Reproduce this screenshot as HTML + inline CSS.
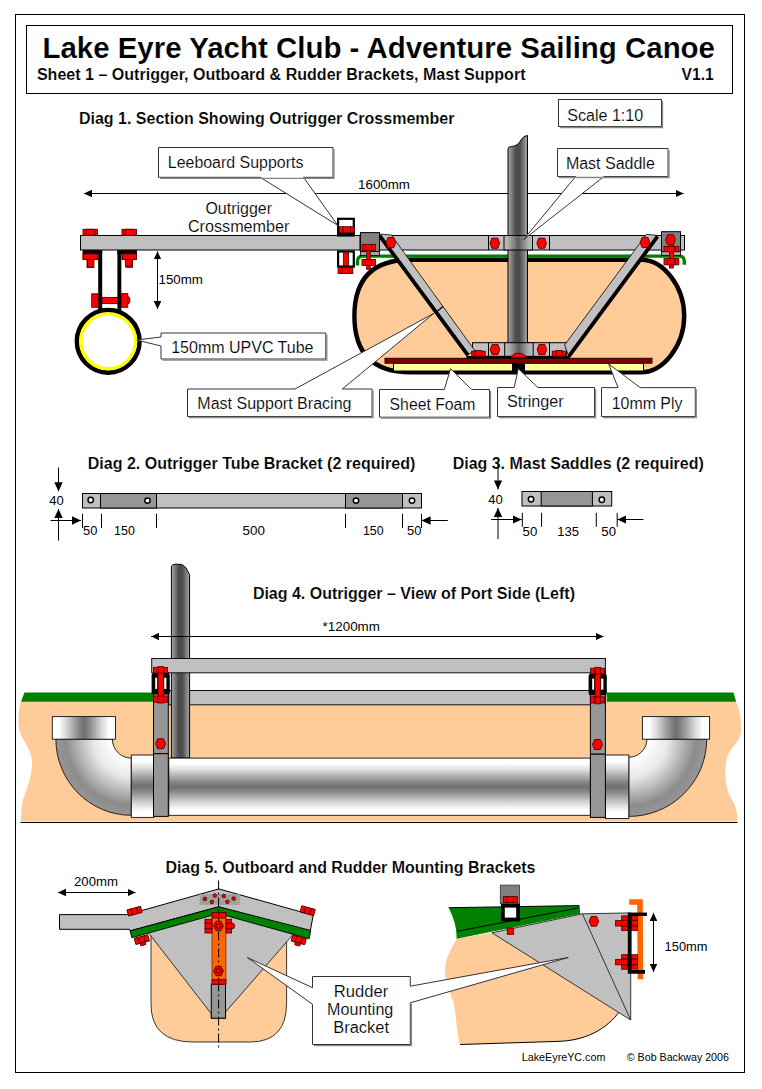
<!DOCTYPE html>
<html><head><meta charset="utf-8">
<style>
html,body{margin:0;padding:0;background:#fff;}
svg{display:block;}
text{font-family:"Liberation Sans",sans-serif;fill:#000;stroke:#fff;stroke-width:0.15;}
text[font-size="13"],text[font-size="10.7"]{stroke:none;}
text.b{stroke-width:0.15;}
.b{font-weight:bold;}
.co{fill:#fff;stroke:#333;stroke-width:1;stroke-linejoin:miter;}
.g{fill:#c0c0c0;stroke:#000;stroke-width:1;}
.dg{fill:#969696;stroke:#000;stroke-width:1;}
.r{fill:#ff0000;stroke:#5a0000;stroke-width:0.9;}
.ln{stroke:#000;stroke-width:1;fill:none;}
</style></head><body>
<svg width="762" height="1089" viewBox="0 0 762 1089">
<defs>
<linearGradient id="mastH" x1="0" x2="1" y1="0" y2="0">
<stop offset="0" stop-color="#a8a8a8"/><stop offset="0.4" stop-color="#4c4c4c"/><stop offset="0.6" stop-color="#4c4c4c"/><stop offset="1" stop-color="#a8a8a8"/>
</linearGradient>
<linearGradient id="pipeV" x1="0" x2="0" y1="0" y2="1">
<stop offset="0" stop-color="#fff"/><stop offset="0.1" stop-color="#fff"/><stop offset="0.22" stop-color="#d8d8d8"/><stop offset="0.31" stop-color="#b2b2b2"/><stop offset="0.41" stop-color="#8a8a8a"/><stop offset="0.5" stop-color="#707070"/><stop offset="0.59" stop-color="#8a8a8a"/><stop offset="0.69" stop-color="#b2b2b2"/><stop offset="0.78" stop-color="#d8d8d8"/><stop offset="0.9" stop-color="#fff"/><stop offset="1" stop-color="#fff"/>
</linearGradient>
<linearGradient id="pipeH" x1="0" x2="1" y1="0" y2="0">
<stop offset="0" stop-color="#fff"/><stop offset="0.1" stop-color="#fff"/><stop offset="0.22" stop-color="#d8d8d8"/><stop offset="0.31" stop-color="#b2b2b2"/><stop offset="0.41" stop-color="#8a8a8a"/><stop offset="0.5" stop-color="#707070"/><stop offset="0.59" stop-color="#8a8a8a"/><stop offset="0.69" stop-color="#b2b2b2"/><stop offset="0.78" stop-color="#d8d8d8"/><stop offset="0.9" stop-color="#fff"/><stop offset="1" stop-color="#fff"/>
</linearGradient>
<marker id="ah" viewBox="0 0 10 10" refX="10" refY="5" markerWidth="8" markerHeight="7.6" markerUnits="userSpaceOnUse" orient="auto-start-reverse" preserveAspectRatio="none"><path d="M0,0 L10,5 L0,10 Z" fill="#000"/></marker>
<marker id="ah2" viewBox="0 0 10 10" refX="10" refY="5" markerWidth="9" markerHeight="8.4" markerUnits="userSpaceOnUse" orient="auto-start-reverse" preserveAspectRatio="none"><path d="M0,0 L10,5 L0,10 Z" fill="#000"/></marker>
<radialGradient id="elbL" gradientUnits="userSpaceOnUse" cx="131.3" cy="739.2" r="76"><stop offset="0.25" stop-color="#fff"/><stop offset="0.5" stop-color="#e8e8e8"/><stop offset="0.72" stop-color="#b0b0b0"/><stop offset="0.86" stop-color="#8c8c8c"/><stop offset="1" stop-color="#969696"/></radialGradient>
<radialGradient id="elbR" gradientUnits="userSpaceOnUse" cx="628.8" cy="739.2" r="77.5"><stop offset="0.25" stop-color="#fff"/><stop offset="0.5" stop-color="#e8e8e8"/><stop offset="0.72" stop-color="#b0b0b0"/><stop offset="0.86" stop-color="#8c8c8c"/><stop offset="1" stop-color="#969696"/></radialGradient>
<linearGradient id="sadH" x1="0" x2="1" y1="0" y2="0"><stop offset="0" stop-color="#bcbcbc"/><stop offset="0.15" stop-color="#b0b0b0"/><stop offset="0.5" stop-color="#5c5c5c"/><stop offset="0.85" stop-color="#b0b0b0"/><stop offset="1" stop-color="#bcbcbc"/></linearGradient>
</defs>
<rect x="0" y="0" width="762" height="1089" fill="#fff"/>
<!-- FRAME -->
<rect x="15.5" y="14.5" width="729" height="1058" fill="none" stroke="#000" stroke-width="1"/>
<rect x="26.5" y="25.5" width="706" height="68" fill="none" stroke="#000" stroke-width="1"/>
<text class="b" x="42.4" y="58" font-size="29.6" textLength="672.6" lengthAdjust="spacingAndGlyphs">Lake Eyre Yacht Club - Adventure Sailing Canoe</text>
<text class="b" x="36.9" y="79.6" font-size="16" textLength="488.6" lengthAdjust="spacingAndGlyphs">Sheet 1 – Outrigger, Outboard &amp; Rudder Brackets, Mast Support</text>
<text class="b" x="681.5" y="79.6" font-size="16" textLength="32.2" lengthAdjust="spacingAndGlyphs">V1.1</text>

<g id="diag1">
<text class="b" x="78.9" y="124.0" font-size="16" textLength="375.6" lengthAdjust="spacingAndGlyphs">Diag 1. Section Showing Outrigger Crossmember</text>
<!-- dim line -->
<line class="ln" x1="84" y1="193.5" x2="683.5" y2="193.5" marker-start="url(#ah)" marker-end="url(#ah)"/>
<text x="358.1" y="189.4" font-size="13" textLength="51.8" lengthAdjust="spacingAndGlyphs">1600mm</text>
<!-- hull -->
<path d="M410.4,259.7 L641.2,259.7 C663.6,259.7 684.2,286.7 684.2,315.95 C684.2,345.2 663.6,372.2 641.2,372.2 L410.4,372.2 C372.9,372.2 354.4,353.6 354.4,315.95 C354.4,278.3 372.9,259.7 410.4,259.7 Z" fill="#ffcc99" stroke="#000" stroke-width="4.4"/>
<!-- green gunwale -->
<path d="M357.5,265.6 L357.5,261.5 Q357.5,256.1 362.5,256.1 L679.5,256.1 Q684.3,256.1 684.3,261.5 L684.3,264.8" fill="none" stroke="#008000" stroke-width="3.4"/>
<!-- ply / foam / stringer -->
<rect x="393.5" y="363" width="119" height="8" fill="#ffff99" stroke="#000" stroke-width="1"/>
<rect x="524.5" y="363" width="119" height="8" fill="#ffff99" stroke="#000" stroke-width="1"/>
<rect x="512.5" y="362" width="11.5" height="11.5" fill="#000"/>
<rect x="385" y="358.3" width="267" height="4.9" fill="#800000" stroke="#300000" stroke-width="1"/>
<!-- outer crossmember -->
<rect class="g" x="80.5" y="235.5" width="279.5" height="14.5"/>
<!-- inner crossmember -->
<rect class="g" x="379.5" y="235.5" width="305" height="14.5"/>
<rect class="g" x="472.5" y="342.7" width="94" height="13.6"/>
<!-- mast -->
<path d="M508,356 L508,149 Q508,146.5 511.5,146.5 Q518,146 521,140 Q523.5,135.5 527.5,135.5 L527.5,356 Z" fill="url(#mastH)" stroke="#000" stroke-width="1"/>
<rect x="504" y="235.5" width="28.5" height="14.5" fill="url(#sadH)" stroke="#000" stroke-width="1"/>
<line class="ln" x1="488.5" y1="235.5" x2="488.5" y2="250"/>
<line class="ln" x1="549.5" y1="235.5" x2="549.5" y2="250"/>
<!-- bottom cross piece -->
<rect x="504.7" y="342.7" width="28.5" height="13.6" fill="url(#sadH)" stroke="#000" stroke-width="1"/>
<line class="ln" x1="488.5" y1="342.7" x2="488.5" y2="356.3"/>
<line class="ln" x1="549.5" y1="342.7" x2="549.5" y2="356.3"/>
<rect x="466.5" y="356" width="103.5" height="2.6" fill="#000"/>
<!-- braces -->
<polygon points="378.7,234 391.3,235 474.8,350.5 467,355.3" fill="#c0c0c0" stroke="#000" stroke-width="0.8"/>
<line x1="379.6" y1="235.6" x2="468" y2="355.4" stroke="#000" stroke-width="3.8"/>
<line x1="437" y1="311.5" x2="443" y2="306.5" stroke="#000" stroke-width="1.2"/>
<polygon points="646.5,234.3 658,235.5 568.7,356.5 564.6,345" fill="#c0c0c0" stroke="#000" stroke-width="0.8"/>
<line x1="657.4" y1="236.6" x2="569" y2="356.2" stroke="#000" stroke-width="3.8"/>
<!-- end blocks -->
<rect x="360.4" y="232.6" width="19.1" height="19" fill="#808080" stroke="#000" stroke-width="1"/>
<rect x="360.4" y="251.6" width="19.1" height="3.9" fill="#a6a6a6" stroke="#000" stroke-width="0.8"/>
<rect x="661.5" y="231.7" width="19" height="20" fill="#808080" stroke="#000" stroke-width="1"/>
<rect x="661.5" y="251.6" width="19" height="3.9" fill="#a6a6a6" stroke="#000" stroke-width="0.8"/>
<!-- leeboard supports -->
<rect x="338.1" y="218.8" width="15.7" height="16.7" fill="#fff" stroke="#000" stroke-width="2.2"/>
<rect x="337" y="232.3" width="17.9" height="3.2" fill="#000"/>
<rect x="338.1" y="251.5" width="15.7" height="15.1" fill="#fff" stroke="#000" stroke-width="2.2"/>
<g class="r">
<rect x="339.4" y="226.7" width="3.6" height="5.6"/><rect x="343" y="226.7" width="7.6" height="5.6"/><rect x="350.6" y="226.7" width="3.5" height="5.6"/>
<rect x="343.4" y="252.9" width="5" height="12.7"/>
<rect x="338.1" y="267.7" width="3.9" height="5.8"/><rect x="342" y="267.7" width="7.3" height="5.8"/><rect x="349.3" y="267.7" width="3.5" height="5.8"/>
<!-- left end-block bolt -->
<rect x="366.7" y="250.3" width="3.6" height="19"/>
<rect x="362" y="244.4" width="3.4" height="5.9"/><rect x="365.4" y="244.4" width="6.2" height="5.9"/><rect x="371.6" y="244.4" width="3.9" height="5.9"/>
<rect x="362" y="259.5" width="3.4" height="5.9"/><rect x="365.4" y="259.5" width="6.2" height="5.9"/><rect x="371.6" y="259.5" width="3.9" height="5.9"/>
<!-- right end-block bolt -->
<rect x="669.4" y="244" width="4" height="24"/>
<rect x="664" y="246.5" width="3.6" height="5.2"/><rect x="667.6" y="246.5" width="7.4" height="5.2"/><rect x="675" y="246.5" width="3.8" height="5.2"/>
<rect x="664" y="258.6" width="3.6" height="6.2"/><rect x="667.6" y="258.6" width="7.4" height="6.2"/><rect x="675" y="258.6" width="3.8" height="6.2"/>
</g>
<!-- BOLTS -->
<g class="r">
<!-- hex -->
<polygon points="386.1,242.6 387.9,237.5 393.9,237.5 395.7,242.6 393.9,247.7 387.9,247.7"/>
<polygon points="490.0,243.2 491.8,238.1 497.8,238.1 499.6,243.2 497.8,248.3 491.8,248.3"/>
<polygon points="536.9,243.2 538.7,238.1 544.7,238.1 546.5,243.2 544.7,248.3 538.7,248.3"/>
<polygon points="640.2,242.5 642.0,237.4 648.0,237.4 649.8,242.5 648.0,247.6 642.0,247.6"/>
<polygon points="665.7,239.8 667.5,234.7 673.5,234.7 675.3,239.8 673.5,244.9 667.5,244.9"/>
<polygon points="490.2,349.6 492.0,344.5 498.0,344.5 499.8,349.6 498.0,354.7 492.0,354.7"/>
<polygon points="537.1,349.6 538.9,344.5 544.9,344.5 546.7,349.6 544.9,354.7 538.9,354.7"/>
<!-- brace bottom bolts -->
<rect x="471.7" y="351.2" width="3.6" height="5"/><rect x="475.3" y="350.5" width="6.3" height="5.7"/><rect x="481.6" y="351.2" width="3.6" height="5"/>
<rect x="552.3" y="351.2" width="3.6" height="5"/><rect x="555.9" y="350.5" width="6.3" height="5.7"/><rect x="562.2" y="351.2" width="3.6" height="5"/>
<path d="M511.4,357.8 Q512,353.2 518.5,353.2 Q525,353.2 525.7,357.8 Z"/>
<!-- left end bolts on crossmember -->
<rect x="83" y="229.3" width="14.5" height="6"/><rect x="86" y="229.3" width="8.5" height="6"/>
<rect x="122" y="229.3" width="14.5" height="6"/><rect x="125" y="229.3" width="8.5" height="6"/>
<rect x="83" y="250.3" width="14.5" height="9"/><rect x="87" y="259.3" width="6.6" height="8"/>
<rect x="122" y="250.3" width="14.5" height="9"/><rect x="126" y="259.3" width="6.6" height="8"/>
</g>
<!-- U bracket -->
<g fill="#000">
<rect x="83" y="250.3" width="19.2" height="3.8"/>
<rect x="117.3" y="250.3" width="19.4" height="3.8"/>
<rect x="98.2" y="250.3" width="4" height="61"/>
<rect x="117.4" y="250.3" width="3.9" height="61"/>
</g>
<g class="r">
<rect x="83.1" y="254" width="14.5" height="5.5"/><rect x="87.5" y="259.4" width="6.4" height="7.8"/>
<rect x="122.5" y="254" width="14" height="5.5"/><rect x="125.4" y="259.4" width="6.3" height="6.8"/>
<rect x="102" y="297.4" width="15.5" height="6.2"/>
<rect x="91.7" y="293.8" width="6.4" height="13.5"/>
<rect x="121.6" y="293.6" width="6.2" height="13.7"/>
<path d="M127.7,296.5 Q130,296.5 130,300.3 Q130,304 127.7,304 Z"/>
</g>
<circle cx="108.2" cy="341.3" r="31.3" fill="#fff" stroke="#000" stroke-width="4.6"/>
<circle cx="108.2" cy="341.3" r="27.4" fill="#fff" stroke="#ffff00" stroke-width="3.4"/>
<!-- 150mm arrow -->
<line class="ln" x1="157.5" y1="251.4" x2="157.5" y2="309" marker-start="url(#ah)" marker-end="url(#ah)"/>
<text x="158.6" y="284.1" font-size="13" textLength="44.3" lengthAdjust="spacingAndGlyphs">150mm</text>
<text x="205.4" y="214.3" font-size="16" textLength="66.6" lengthAdjust="spacingAndGlyphs">Outrigger</text>
<text x="187.9" y="231.9" font-size="16" textLength="101.6" lengthAdjust="spacingAndGlyphs">Crossmember</text>
<!-- callouts -->
<path class="co" d="M158.5,147.5 H333 V177.3 H303.5 L337.7,225.3 L260.2,177.3 H158.5 Z"/>
<path d="M334.0,149.0 V178.3 H160.0" fill="none" stroke="#888" stroke-width="1.3"/>
<text x="167.8" y="168.2" font-size="16" textLength="135.6" lengthAdjust="spacingAndGlyphs">Leeboard Supports</text>
<path class="co" d="M557.5,148.5 H668 V176.5 H604 L523.6,239.6 L575.6,176.5 H557.5 Z"/>
<path d="M669.0,150.0 V177.5 H559.0" fill="none" stroke="#888" stroke-width="1.3"/>
<text x="565.9" y="169.3" font-size="16" textLength="88.9" lengthAdjust="spacingAndGlyphs">Mast Saddle</text>
<rect class="co" x="558.5" y="99.5" width="103" height="27"/>
<path d="M662.5,101.0 V127.5 H560.0" fill="none" stroke="#888" stroke-width="1.3"/>
<text x="567.2" y="120.6" font-size="16" textLength="76.0" lengthAdjust="spacingAndGlyphs">Scale 1:10</text>
<path class="co" d="M161,333 H325.8 V359 H161 V346 L136.8,340 L161,337 Z"/>
<path d="M326.8,334.5 V360.0 H162.5" fill="none" stroke="#888" stroke-width="1.3"/>
<text x="171.2" y="353.3" font-size="16" textLength="142.3" lengthAdjust="spacingAndGlyphs">150mm UPVC Tube</text>
<path class="co" d="M187.5,389 H295 L433.9,313.3 L342.3,389 H372 V416.5 H187.5 Z"/>
<path d="M373.0,390.5 V417.5 H189.0" fill="none" stroke="#888" stroke-width="1.3"/>
<text x="197.3" y="409.2" font-size="16" textLength="154.2" lengthAdjust="spacingAndGlyphs">Mast Support Bracing</text>
<path class="co" d="M379.5,389.5 H444.3 L450.6,368.7 L471.7,389.5 H489.5 V417.2 H379.5 Z"/>
<path d="M490.5,391.0 V418.2 H381.0" fill="none" stroke="#888" stroke-width="1.3"/>
<text x="389.6" y="410.3" font-size="16" textLength="85.9" lengthAdjust="spacingAndGlyphs">Sheet Foam</text>
<path class="co" d="M497.5,387.5 H514.2 L518.3,368.7 L537.8,387.5 H594.5 V416.6 H497.5 Z"/>
<path d="M595.5,389.0 V417.6 H499.0" fill="none" stroke="#888" stroke-width="1.3"/>
<text x="507" y="407.4" font-size="16" textLength="56.6" lengthAdjust="spacingAndGlyphs">Stringer</text>
<path class="co" d="M601.5,387.6 H618 L608.7,364 L640.2,387.6 H695.3 V416.6 H601.5 Z"/>
<path d="M696.3,389.1 V417.6 H603.0" fill="none" stroke="#888" stroke-width="1.3"/>
<text x="611.7" y="408.7" font-size="16" textLength="70.8" lengthAdjust="spacingAndGlyphs">10mm Ply</text>
</g>

<g id="diag2">
<text class="b" x="87.7" y="469.1" font-size="16" textLength="327.6" lengthAdjust="spacingAndGlyphs">Diag 2. Outrigger Tube Bracket (2 required)</text>
<rect class="g" x="82.5" y="493.5" width="339" height="14.5"/>
<rect class="dg" x="100.5" y="493.5" width="56" height="14.5"/>
<rect class="dg" x="345.5" y="493.5" width="57" height="14.5"/>
<g fill="#fff" stroke="#000" stroke-width="1.5">
<circle cx="90.7" cy="500" r="2.7"/><circle cx="147.5" cy="500.6" r="2.7"/><circle cx="356" cy="500.6" r="2.7"/><circle cx="412" cy="500.6" r="2.7"/>
</g>
<text x="49.3" y="504.6" font-size="13" textLength="14.5" lengthAdjust="spacingAndGlyphs">40</text>
<line class="ln" x1="58.5" y1="467.5" x2="58.5" y2="491.3" marker-end="url(#ah2)"/>
<line class="ln" x1="58.5" y1="540.6" x2="58.5" y2="509" marker-end="url(#ah2)"/>
<line class="ln" x1="50.5" y1="520.5" x2="81" y2="520.5" marker-end="url(#ah2)"/>
<line class="ln" x1="447.8" y1="520.5" x2="421.6" y2="520.5" marker-end="url(#ah2)"/>
<path class="ln" d="M82.5,513.8 V528 M101.5,513.8 V528 M156.5,513.8 V528 M345.5,513.8 V528 M402.5,513.8 V528 M421.5,513.8 V528"/>
<text x="83.1" y="534.9" font-size="13" textLength="14.3" lengthAdjust="spacingAndGlyphs">50</text>
<text x="114.1" y="534.9" font-size="13" textLength="20.7" lengthAdjust="spacingAndGlyphs">150</text>
<text x="242.6" y="534.9" font-size="13" textLength="22.3" lengthAdjust="spacingAndGlyphs">500</text>
<text x="362.9" y="534.9" font-size="13" textLength="20.7" lengthAdjust="spacingAndGlyphs">150</text>
<text x="407.1" y="534.9" font-size="13" textLength="14.3" lengthAdjust="spacingAndGlyphs">50</text>
</g>

<g id="diag3">
<text class="b" x="452.7" y="469.3" font-size="16" textLength="251.1" lengthAdjust="spacingAndGlyphs">Diag 3. Mast Saddles (2 required)</text>
<rect class="g" x="522" y="491.5" width="89.7" height="14.5"/>
<rect class="dg" x="541.2" y="491.5" width="51.2" height="14.5"/>
<g fill="#fff" stroke="#000" stroke-width="1.5">
<circle cx="531" cy="499.2" r="2.7"/><circle cx="601.8" cy="499.8" r="2.7"/>
</g>
<text x="488.3" y="503.8" font-size="13" textLength="14.5" lengthAdjust="spacingAndGlyphs">40</text>
<line class="ln" x1="498" y1="461.7" x2="498" y2="489.4" marker-end="url(#ah2)"/>
<line class="ln" x1="498" y1="539.2" x2="498" y2="508" marker-end="url(#ah2)"/>
<line class="ln" x1="491.2" y1="519.5" x2="521.7" y2="519.5" marker-end="url(#ah2)"/>
<line class="ln" x1="643.5" y1="519.5" x2="617.4" y2="519.5" marker-end="url(#ah2)"/>
<path class="ln" d="M522.3,512.8 V526.8 M541.6,512.8 V526.8 M596.3,512.8 V526.8 M617.2,512.8 V526.8"/>
<text x="522.6" y="536.3" font-size="13" textLength="14.7" lengthAdjust="spacingAndGlyphs">50</text>
<text x="557.2" y="536.3" font-size="13" textLength="21.8" lengthAdjust="spacingAndGlyphs">135</text>
<text x="601.3" y="536.3" font-size="13" textLength="14.7" lengthAdjust="spacingAndGlyphs">50</text>
</g>

<g id="diag4">
<text class="b" x="252.9" y="599.2" font-size="16" textLength="322.1" lengthAdjust="spacingAndGlyphs">Diag 4. Outrigger – View of Port Side (Left)</text>
<text x="322.6" y="630.8" font-size="13" textLength="57.3" lengthAdjust="spacingAndGlyphs">*1200mm</text>
<!-- hull body -->
<path d="M21,701.7 C17.5,712 17.5,728 21,735 C27,748 33,752 32,766 C31,780 26,790 23,800 C21,808 21,815 21,821.6 L737.4,821.6 C737.5,812 736,806 731,798 C724,786 724,765 728,755 C732,745 741,742 741,730 C741,718 740,710 736,701.7 Z" fill="#ffcc99"/>
<line class="ln" x1="20.5" y1="822.5" x2="737.5" y2="822.5"/>
<!-- green decks -->
<polygon points="24.4,692.5 153,692.5 153,701.7 21,701.7" fill="#008000"/>
<polygon points="606.7,692.5 733.5,692.5 736.1,701.7 606.7,701.7" fill="#008000"/>
<!-- lower crossmember -->
<rect x="168.8" y="690.5" width="421.6" height="14.3" fill="#c0c0c0" stroke="#111" stroke-width="1"/>
<!-- mast -->
<path d="M171.4,758 L171.4,567 Q171.6,564.3 176,564.2 L181,564.4 Q184,564.8 186,568 L189.6,574.5 L189.6,758 Z" fill="url(#mastH)" stroke="#000" stroke-width="1"/>
<line class="ln" x1="151.2" y1="636.5" x2="603.5" y2="636.5" marker-start="url(#ah)" marker-end="url(#ah)"/>
<!-- upper crossmember -->
<rect x="151.7" y="658.5" width="453.7" height="14.3" fill="#c0c0c0" stroke="#111" stroke-width="1"/>
<!-- main pipe -->
<rect x="168.8" y="758.1" width="421.6" height="57.2" fill="url(#pipeV)" stroke="#111" stroke-width="0.9"/>
<!-- elbows -->
<path d="M55.9,739.2 A75.4,76.1 0 0 0 131.3,815.3 L131.3,758.1 A18.9,18.9 0 0 1 112.4,739.2 Z" fill="url(#elbL)" stroke="#111" stroke-width="0.9"/>
<path d="M706.7,739.2 A77.9,77.2 0 0 1 628.8,816.4 L628.8,757.2 A18,18 0 0 0 646.9,739.2 Z" fill="url(#elbR)" stroke="#111" stroke-width="0.9"/>
<!-- sockets -->
<rect x="52.3" y="716.6" width="63.2" height="22.6" fill="url(#pipeH)" stroke="#111" stroke-width="0.9"/>
<rect x="642.4" y="716.6" width="67.2" height="22.6" fill="url(#pipeH)" stroke="#111" stroke-width="0.9"/>
<!-- collars -->
<rect x="131.3" y="755" width="22.5" height="62.4" fill="url(#pipeV)" stroke="#111" stroke-width="0.9"/>
<rect x="605.4" y="755" width="23.4" height="63.5" fill="url(#pipeV)" stroke="#111" stroke-width="0.9"/>
<!-- brackets -->
<rect x="153.5" y="672.8" width="14.8" height="80.9" fill="#969696" stroke="#000" stroke-width="1"/>
<rect x="153.5" y="753.7" width="14.8" height="62.7" fill="#969696" stroke="#000" stroke-width="1"/>
<rect x="590.4" y="672.8" width="15" height="81.4" fill="#969696" stroke="#000" stroke-width="1"/>
<rect x="590.4" y="754.2" width="15" height="63.2" fill="#969696" stroke="#000" stroke-width="1"/>
<!-- bolts -->
<rect x="151.6" y="673" width="18.2" height="21.4" rx="2.2" fill="#000"/>
<rect x="155.2" y="677.8" width="2" height="11.1" fill="#fff"/><rect x="164.2" y="677.8" width="2.2" height="11.1" fill="#fff"/>
<g class="r">
<rect x="158.0" y="668" width="5.4" height="33"/>
<rect x="153.6" y="667.4" width="4.4" height="5.6"/><rect x="158.0" y="666.6" width="5.4" height="6.3999999999999995"/><rect x="163.4" y="667.4" width="4.1" height="5.6"/>
<rect x="153.6" y="696" width="4.4" height="6.2"/><rect x="158.0" y="696" width="5.4" height="7.0"/><rect x="163.4" y="696" width="4.1" height="6.2"/>
</g>
<rect x="588.6" y="673.8" width="18.2" height="21.4" rx="2.2" fill="#000"/>
<rect x="592.2" y="678.5999999999999" width="2" height="11.1" fill="#fff"/><rect x="601.2" y="678.5999999999999" width="2.2" height="11.1" fill="#fff"/>
<g class="r">
<rect x="595.0" y="668.8" width="5.4" height="33"/>
<rect x="590.6" y="668.1999999999999" width="4.4" height="5.6"/><rect x="595.0" y="667.4" width="5.4" height="6.3999999999999995"/><rect x="600.4" y="668.1999999999999" width="4.1" height="5.6"/>
<rect x="590.6" y="696.8" width="4.4" height="6.2"/><rect x="595.0" y="696.8" width="5.4" height="7.0"/><rect x="600.4" y="696.8" width="4.1" height="6.2"/>
</g>
<polygon class="r" points="155.6,743.8 157.7,738.8 163.5,738.8 165.6,743.8 163.5,748.8 157.7,748.8"/>
<polygon class="r" points="592.5,744.5 594.6,739.5 600.4,739.5 602.5,744.5 600.4,749.5 594.6,749.5"/>
<g>
</g>
</g>

<g id="diag5">
<text class="b" x="165.4" y="873.3" font-size="16" textLength="370.1" lengthAdjust="spacingAndGlyphs">Diag 5. Outboard and Rudder Mounting Brackets</text>
<text x="74.0" y="885.9" font-size="13" textLength="43.9" lengthAdjust="spacingAndGlyphs">200mm</text>
<line class="ln" x1="58" y1="892.5" x2="135.5" y2="892.5" stroke-width="1.2" marker-start="url(#ah)" marker-end="url(#ah)"/>
<!-- FRONT VIEW -->
<!-- hull -->
<path d="M151,932 L151,1004 Q151,1042 193,1042 L250,1042 Q286.6,1042 286.6,1003 L286.6,931 L218.5,915 Z" fill="#ffcc99" stroke="#222" stroke-width="0.9"/>
<!-- rudder bracket triangle -->
<polygon points="147.5,931.5 218.5,912 295.3,932 225.6,1012 225.6,1018.2 211.3,1018.2 211.3,1013.8" fill="#c0c0c0" stroke="#222" stroke-width="0.9"/>
<rect x="211.3" y="984" width="14.2" height="34.2" fill="#969696" stroke="#000" stroke-width="1"/>
<!-- arm + top plate -->
<path d="M59.5,914.6 L127.5,914.6 L218.8,888.9 L313.2,915.3 L310.1,931.9 L218.7,906.8 L130,930.9 L129.6,929.3 L59.5,929.3 Z" fill="#c0c0c0" stroke="#000" stroke-width="1" stroke-linejoin="miter"/>
<rect x="199.6" y="894.1" width="40.2" height="10.8" fill="#a0a0a0"/>
<!-- green -->
<polygon points="130,930.9 218.7,906.8 310.7,930.4 309.2,938.8 218.5,913.5 131.9,937.7" fill="#008000" stroke="#000" stroke-width="0.9"/>
<!-- orange -->
<rect x="212" y="913.3" width="13.9" height="67" fill="#ff6600" stroke="#7a2a00" stroke-width="0.8"/>
<line x1="218.6" y1="880.5" x2="218.6" y2="1049.8" stroke="#000" stroke-width="1" stroke-dasharray="9,3,2,3"/>
<g class="r">
<rect x="212" y="912.5" width="7" height="5.5"/><rect x="219" y="912.5" width="7" height="5.5"/>
<rect x="212" y="979.7" width="7" height="4.6"/><rect x="219" y="979.7" width="7" height="4.6"/>
<rect x="205" y="919.3" width="7" height="4"/><rect x="205" y="923.3" width="7" height="5.5"/><rect x="205" y="928.8" width="7" height="4.2"/>
<rect x="226" y="919.3" width="5.6" height="4"/><rect x="226" y="923.3" width="5.6" height="5.5"/><rect x="226" y="928.8" width="5.6" height="4.2"/>
<path d="M231.6,923 Q234.6,923 234.6,926 Q234.6,929 231.6,929 Z"/>
<polygon points="213.6,925.9 216,921.2 221,921.2 223.4,925.9 221,930.6 216,930.6"/><circle cx="218.5" cy="925.9" r="2.6"/>
<polygon points="213.6,971 216,966.3 221,966.3 223.4,971 221,975.7 216,975.7"/><circle cx="218.5" cy="971" r="2.6"/>
<circle cx="204.9" cy="898.9" r="1.8"/><circle cx="214.8" cy="895.5" r="1.8"/><circle cx="211.9" cy="902" r="1.8"/><circle cx="223.8" cy="896" r="1.8"/><circle cx="227.4" cy="901.8" r="1.8"/><circle cx="233.7" cy="898.6" r="1.8"/>
<g transform="translate(134.5,911.2) rotate(-15)"><rect x="-7" y="-3.2" width="4.2" height="6.4"/><rect x="-2.8" y="-3.2" width="5.6" height="6.4"/><rect x="2.8" y="-3.2" width="4.2" height="6.4"/></g>
<g transform="translate(141.9,939.8) rotate(-15)"><rect x="-7" y="-3.4" width="4.2" height="6.4"/><rect x="-2.8" y="-3.4" width="5.6" height="6.4"/><rect x="2.8" y="-3.4" width="4.2" height="6.4"/><rect x="-2.6" y="3" width="5.2" height="2.6"/></g>
<g transform="translate(307.7,910.7) rotate(15)"><rect x="-7" y="-3.2" width="4.2" height="6.4"/><rect x="-2.8" y="-3.2" width="5.6" height="6.4"/><rect x="2.8" y="-3.2" width="4.2" height="6.4"/></g>
<g transform="translate(298.7,940) rotate(15)"><rect x="-7" y="-3.4" width="4.2" height="6.4"/><rect x="-2.8" y="-3.4" width="5.6" height="6.4"/><rect x="2.8" y="-3.4" width="4.2" height="6.4"/><rect x="-2.6" y="3" width="5.2" height="2.6"/></g>
</g>
<!-- SIDE VIEW -->
<!-- peach -->
<path d="M456.6,938.8 C452,948 445,958 445,969.6 C445,985 452,995 454,1005 C457,1020 456,1032 460.2,1044.5 L560,1041.3 C590,1040 610,1026 622,1008 L491.9,932.8 Z" fill="#ffcc99"/>
<path d="M460.2,1044.5 L560,1041.3 C590,1040 610,1026 622,1008" fill="none" stroke="#000" stroke-width="1"/>
<!-- green -->
<path d="M448.7,907.7 L579.4,905.6 L580.3,913.8 L456.6,938.8 C457,925 452,915 448.7,907.7 Z" fill="#008000"/>
<line class="ln" x1="457.2" y1="931.3" x2="579.4" y2="907.7"/>
<line class="ln" x1="448.7" y1="907.7" x2="579.4" y2="905.6" stroke-width="0.8"/>
<!-- bracket -->
<polygon points="491.9,932.8 582.4,913.8 630.7,912.9 630.7,1020" fill="#c0c0c0" stroke="#222" stroke-width="0.9"/>
<line x1="582.4" y1="913.8" x2="630.7" y2="1020" stroke="#222" stroke-width="0.9"/>
<!-- top box -->
<rect x="500.3" y="885.1" width="19.3" height="18.7" fill="#808080" stroke="#333" stroke-width="0.8"/>
<rect x="502.9" y="905.7" width="15.2" height="13.8" fill="#fff" stroke="#000" stroke-width="3.8"/>
<!-- orange -->
<path d="M629.2,902 L640,902 L640.4,979.3" fill="none" stroke="#ff6600" stroke-width="5.6"/>
<!-- black bracket -->
<path d="M646.7,914.4 L629.6,914.4 L629.6,971.7 L644.9,971.7" fill="none" stroke="#000" stroke-width="3.4"/>
<g class="r">
<rect x="503.3" y="896.6" width="4" height="6"/><rect x="507.3" y="896.6" width="6.2" height="6"/><rect x="513.5" y="896.6" width="4" height="6"/>
<rect x="507.3" y="928" width="6.3" height="6.3"/>
<polygon points="589,921.3 591.2,916.4 596.6,916.4 598.8,921.3 596.6,926.2 591.2,926.2"/>
<rect x="615.6" y="920.6" width="22" height="5.4"/>
<rect x="621.7" y="915.9" width="6" height="4.4"/><rect x="621.7" y="920.3" width="6" height="5.8"/><rect x="621.7" y="926.1" width="6" height="4.3"/>
<rect x="631.6" y="915.9" width="6" height="4.4"/><rect x="631.6" y="920.3" width="6" height="5.8"/><rect x="631.6" y="926.1" width="6" height="4.3"/>
<rect x="615.6" y="959.4" width="22" height="5.4"/>
<rect x="621.7" y="954.7" width="6" height="4.4"/><rect x="621.7" y="959.1" width="6" height="5.8"/><rect x="621.7" y="964.9" width="6" height="4.3"/>
<rect x="631.6" y="954.7" width="6" height="4.4"/><rect x="631.6" y="959.1" width="6" height="5.8"/><rect x="631.6" y="964.9" width="6" height="4.3"/>
</g>
<path d="M646.7,914.4 L629.6,914.4 L629.6,971.7 L644.9,971.7" fill="none" stroke="#000" stroke-width="3.4"/>
<line class="ln" x1="653.5" y1="912.9" x2="653.5" y2="971.9" marker-start="url(#ah)" marker-end="url(#ah)"/>
<text x="664.6" y="950.8" font-size="13" textLength="42.9" lengthAdjust="spacingAndGlyphs">150mm</text>
<!-- callout -->
<path d="M312.5,976.5 H410.3 V986.2 L568.2,957.5 L410.3,1002.8 V1044.5 H312.5 V1004.3 L247.3,957.5 L312.5,987.7 Z" fill="#fff" stroke="#333" stroke-width="1"/>
<path d="M411.4,1004 V1045.6 H314" fill="none" stroke="#888" stroke-width="1.3"/>
<text x="333.8" y="996.8" font-size="16" textLength="54.4" lengthAdjust="spacingAndGlyphs">Rudder</text>
<text x="327.1" y="1014.9" font-size="16" textLength="66.2" lengthAdjust="spacingAndGlyphs">Mounting</text>
<text x="333.2" y="1032.7" font-size="16" textLength="55.9" lengthAdjust="spacingAndGlyphs">Bracket</text>
</g>

<text x="521.8" y="1061.3" font-size="10.7" textLength="83.6" lengthAdjust="spacingAndGlyphs">LakeEyreYC.com</text>
<text x="626.8" y="1061.3" font-size="10.7" textLength="102.1" lengthAdjust="spacingAndGlyphs">© Bob Backway 2006</text>

</svg>
</body></html>
